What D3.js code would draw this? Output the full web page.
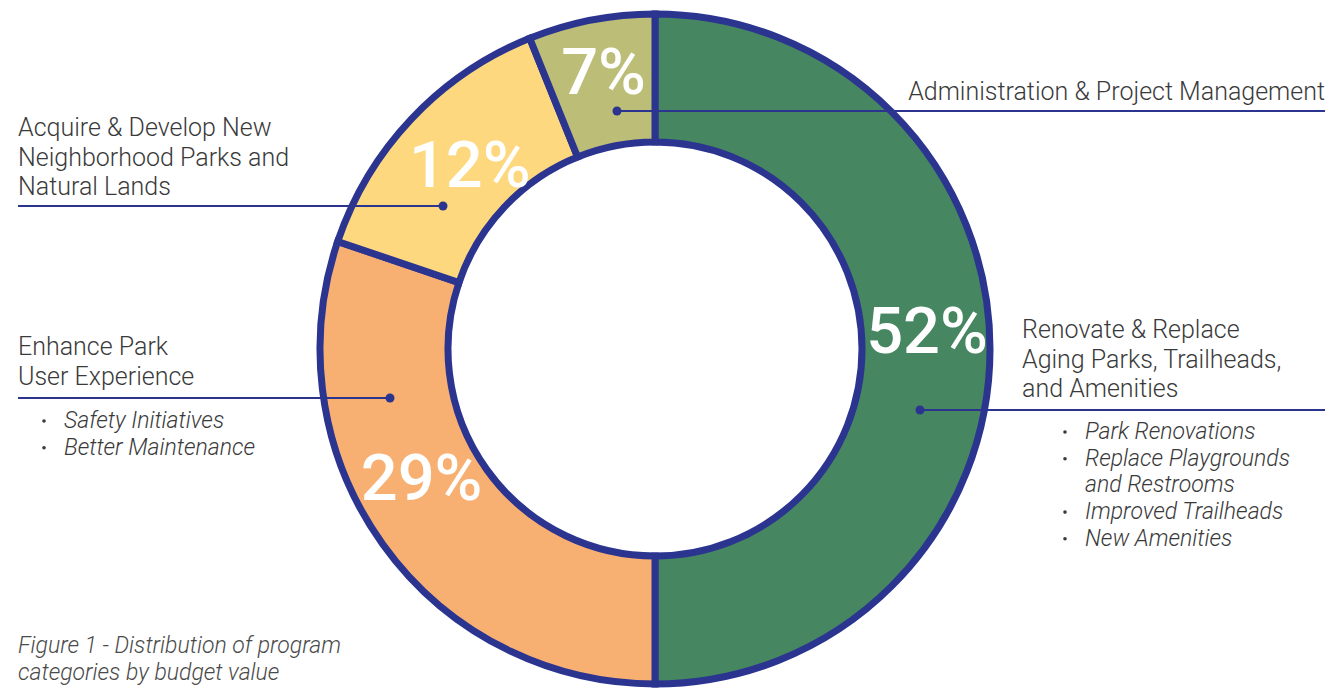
<!DOCTYPE html>
<html>
<head>
<meta charset="utf-8">
<script src="https://cdn.jsdelivr.net/npm/d3@7"></script>
<style>
  body { margin: 0; background: #fff; }
  svg { display: block; font-family: Roboto, "Noto Sans", sans-serif; }
</style>
</head>
<body>
<svg id="chart"></svg>
<script>
// program categories, clockwise from 12 o'clock
const categories = [
  "Renovate & Replace Aging Parks, Trailheads, and Amenities",
  "Enhance Park User Experience",
  "Acquire & Develop New Neighborhood Parks and Natural Lands",
  "Administration & Project Management"
];
// share of the ring as drawn in the figure
const shares = [50, 30.2, 13.7, 6.1];
// percentages printed on the ring
const pctLabels = ["52%", "29%", "12%", "7%"];
const colors = ["#468762", "#f8b072", "#fdd87f", "#bcbd77"];

// callout text, one array per category
const titleLines = [
  ["Renovate & Replace", "Aging Parks, Trailheads,", "and Amenities"],
  ["Enhance Park", "User Experience"],
  ["Acquire & Develop New", "Neighborhood Parks and", "Natural Lands"],
  ["Administration & Project Management"]
];
const bulletLines = [
  [["Park Renovations"], ["Replace Playgrounds", "and Restrooms"], ["Improved Trailheads"], ["New Amenities"]],
  [["Safety Initiatives"], ["Better Maintenance"]],
  [],
  []
];
const caption = ["Figure 1 - Distribution of program", "categories by budget value"];

const width = 1334, height = 691;
const cx = 655, cy = 349;
const outerR = 335, innerR = 207;
const navy = "#2b3590", ink = "#3a3a3a";

const svg = d3.select("#chart").attr("width", width).attr("height", height);

const pie = d3.pie().sort(null).value(d => d);
const arcs = pie(shares);
const arc = d3.arc().innerRadius(innerR).outerRadius(outerR);

const g = svg.append("g").attr("transform", `translate(${cx},${cy})`);

g.selectAll("path.slice")
  .data(arcs)
  .join("path")
  .attr("class", "slice")
  .attr("d", arc)
  .attr("fill", (d, i) => colors[i])
  .attr("stroke", navy)
  .attr("stroke-width", 7)
  .attr("stroke-linejoin", "miter");

// percentage labels sit near the outer part of each slice
const labelNudge = [[2, -19], [-14, -30], [11, 0], [0, -13]]; // small shifts from the label arc
const labelArc = d3.arc().innerRadius(270).outerRadius(270);
g.selectAll("text.pct")
  .data(arcs)
  .join("text")
  .attr("class", "pct")
  .attr("transform", (d, i) => {
    const [x, y] = labelArc.centroid(d);
    return `translate(${x + labelNudge[i][0]},${y + labelNudge[i][1]})`;
  })
  .attr("text-anchor", "middle")
  .attr("dy", "0.36em")
  .attr("fill", "#fff")
  .attr("font-size", 65)
  .attr("font-weight", 500)
  .text((d, i) => pctLabels[i]);

// callout layout: leader y, dot x, line end x, text position
const callouts = [
  { lineY: 410, dotX: 920, endX: 1325, textX: 1022, anchor: "start", firstBase: 338, bulletX: 1065, bulletTextX: 1085, bulletBase: 439 },
  { lineY: 398, dotX: 390, endX: 18, textX: 18, anchor: "start", firstBase: 355, bulletX: 44, bulletTextX: 64, bulletBase: 428 },
  { lineY: 206, dotX: 443, endX: 18, textX: 18, anchor: "start", firstBase: 136, bulletX: 0, bulletTextX: 0, bulletBase: 0 },
  { lineY: 111, dotX: 617, endX: 1325, textX: 1325, anchor: "end", firstBase: 100, bulletX: 0, bulletTextX: 0, bulletBase: 0 }
];

const notes = svg.append("g");
callouts.forEach((c, i) => {
  notes.append("line")
    .attr("x1", c.dotX).attr("x2", c.endX)
    .attr("y1", c.lineY).attr("y2", c.lineY)
    .attr("stroke", navy).attr("stroke-width", 2.2);
  notes.append("circle")
    .attr("cx", c.dotX).attr("cy", c.lineY).attr("r", 4.5)
    .attr("fill", navy);

  notes.append("g").selectAll("text")
    .data(titleLines[i])
    .join("text")
    .attr("x", c.textX)
    .attr("y", (d, j) => c.firstBase + j * 29.5)
    .attr("text-anchor", c.anchor)
    .attr("fill", ink)
    .attr("font-size", 25)
    .attr("font-weight", 300)
    .text(d => d);

  let row = 0;
  bulletLines[i].forEach(item => {
    item.forEach((line, k) => {
      const y = c.bulletBase + row * 26.7;
      if (k === 0) {
        notes.append("circle")
          .attr("cx", c.bulletX).attr("cy", y - 7).attr("r", 1.8)
          .attr("fill", ink);
      }
      notes.append("text")
        .attr("x", c.bulletTextX).attr("y", y)
        .attr("fill", ink)
        .attr("font-size", 23)
        .attr("font-weight", 300)
        .attr("font-style", "italic")
        .text(line);
      row++;
    });
  });
});

svg.append("g").selectAll("text")
  .data(caption)
  .join("text")
  .attr("x", 18)
  .attr("y", (d, i) => 653 + i * 27)
  .attr("fill", "#4a4a4a")
  .attr("font-size", 23)
  .attr("font-weight", 300)
  .attr("font-style", "italic")
  .text(d => d);
</script>
</body>
</html>
